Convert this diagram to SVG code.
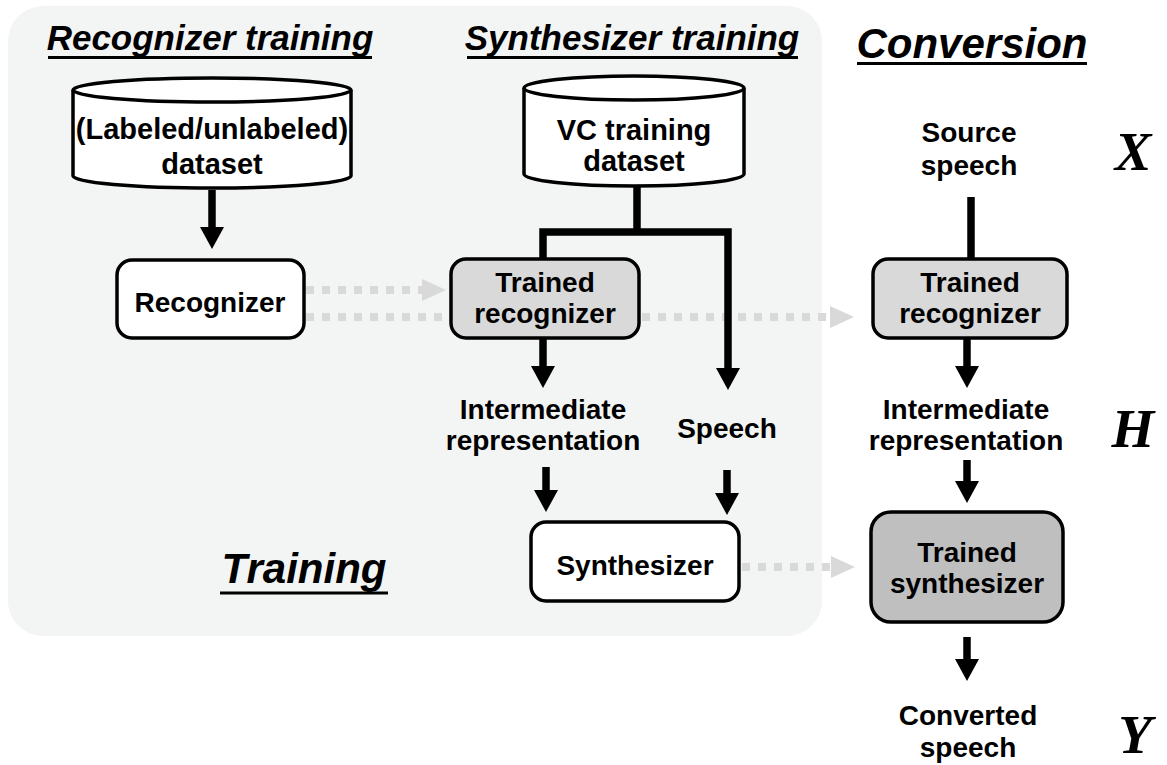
<svg xmlns="http://www.w3.org/2000/svg" width="1167" height="765" viewBox="0 0 1167 765">
  <style>
    .lbl { font-family: "Liberation Sans", Arial, sans-serif; font-weight: bold; font-size: 28px; fill: #000; text-anchor: middle; }
    .db { font-size: 29px; }
    .hdr { font-family: "Liberation Sans", Arial, sans-serif; font-weight: bold; font-style: italic; fill: #000; text-anchor: middle; }
    .var { font-family: "Liberation Serif", "Times New Roman", serif; font-weight: bold; font-style: italic; font-size: 55px; fill: #000; text-anchor: middle; }
    .box { stroke: #000; stroke-width: 3.5; }
    .ul { stroke: #000; stroke-width: 3; }
    .flow { fill: none; stroke: #000; stroke-width: 7.5; stroke-linejoin: miter; }
    .dot { fill: none; stroke: #d9d9d9; stroke-width: 8; stroke-dasharray: 8 8; }
  </style>
  <defs>
    <marker id="blk" markerUnits="userSpaceOnUse" markerWidth="26" markerHeight="24" refX="0" refY="12" orient="auto" viewBox="0 0 26 24">
      <path d="M0,0 L22,12 L0,24 Z" fill="#000"/>
    </marker>
    <marker id="gry" markerUnits="userSpaceOnUse" markerWidth="24" markerHeight="22" refX="0" refY="11" orient="auto" viewBox="0 0 24 22">
      <path d="M0,0 L24,11 L0,22 Z" fill="#d9d9d9"/>
    </marker>
  </defs>

  <rect width="1167" height="765" fill="#fff"/>
  <!-- training panel -->
  <rect id="training-panel" x="8" y="6" width="814" height="630" rx="35" fill="#f3f4f4"/>

  <!-- section headings -->
  <g id="headings">
    <text class="hdr" x="210" y="50" font-size="35">Recognizer training</text>
    <line class="ul" x1="48" y1="57.5" x2="372" y2="57.5"/>
    <text class="hdr" x="632" y="50" font-size="35">Synthesizer training</text>
    <line class="ul" x1="467" y1="57.5" x2="798" y2="57.5"/>
    <text class="hdr" x="972" y="58" font-size="42">Conversion</text>
    <line class="ul" x1="857" y1="63.5" x2="1087" y2="63.5"/>
    <text class="hdr" x="304" y="583" font-size="42">Training</text>
    <line class="ul" x1="220" y1="593" x2="388" y2="593"/>
  </g>

  <!-- connectors -->
  <g id="connectors">
    <!-- gray dotted transfers -->
    <line class="dot" x1="306" y1="290" x2="422" y2="290" marker-end="url(#gry)"/>
    <line class="dot" x1="306" y1="317" x2="452" y2="317"/>
    <line class="dot" x1="642" y1="317" x2="830" y2="317" marker-end="url(#gry)"/>
    <line class="dot" x1="742" y1="567" x2="831" y2="567" marker-end="url(#gry)"/>
    <!-- black flows -->
    <line class="flow" x1="212" y1="190" x2="212" y2="227" marker-end="url(#blk)"/>
    <path class="flow" d="M637,186 V232"/>
    <path class="flow" d="M543,366 V232 H728 V368"/>
    <path d="M531,366 L555,366 L543,388 Z" fill="#000"/>
    <path d="M716,368 L740,368 L728,390 Z" fill="#000"/>
    <line class="flow" x1="546" y1="467" x2="546" y2="490" marker-end="url(#blk)"/>
    <line class="flow" x1="727" y1="470" x2="727" y2="493" marker-end="url(#blk)"/>
    <line class="flow" x1="971" y1="197" x2="971" y2="262"/>
    <line class="flow" x1="967" y1="337" x2="967" y2="366" marker-end="url(#blk)"/>
    <line class="flow" x1="967" y1="460" x2="967" y2="481" marker-end="url(#blk)"/>
    <line class="flow" x1="967" y1="637" x2="967" y2="659" marker-end="url(#blk)"/>
  </g>

  <!-- datasets -->
  <g id="labeled-dataset">
    <path class="box" fill="#fff" d="M73,90 V176 A139,12 0 0 0 351,176 V90"/>
    <ellipse class="box" fill="#fff" cx="212" cy="90" rx="139" ry="12"/>
    <text class="lbl db" x="212" y="139">(Labeled/unlabeled)</text>
    <text class="lbl db" x="212" y="174">dataset</text>
  </g>
  <g id="vc-dataset">
    <path class="box" fill="#fff" d="M524,88 V174 A110,12 0 0 0 744,174 V88"/>
    <ellipse class="box" fill="#fff" cx="634" cy="88" rx="110" ry="12"/>
    <text class="lbl db" x="634" y="140">VC training</text>
    <text class="lbl db" x="634" y="171">dataset</text>
  </g>

  <!-- training nodes -->
  <g id="recognizer">
    <rect class="box" x="117" y="260" width="187" height="78" rx="15" fill="#fff"/>
    <text class="lbl" x="210" y="312">Recognizer</text>
  </g>
  <g id="trained-recognizer-train">
    <rect class="box" x="451" y="259" width="188" height="79" rx="15" fill="#d9d9d9"/>
    <text class="lbl" x="545" y="292">Trained</text>
    <text class="lbl" x="545" y="323">recognizer</text>
  </g>
  <g id="intermediate-train">
    <text class="lbl" x="543" y="419">Intermediate</text>
    <text class="lbl" x="543" y="450">representation</text>
  </g>
  <g id="speech-train">
    <text class="lbl" x="727" y="438">Speech</text>
  </g>
  <g id="synthesizer">
    <rect class="box" x="531" y="522" width="208" height="79" rx="15" fill="#fff"/>
    <text class="lbl" x="635" y="575">Synthesizer</text>
  </g>

  <!-- conversion nodes -->
  <g id="source-speech">
    <text class="lbl" x="969" y="142">Source</text>
    <text class="lbl" x="969" y="175">speech</text>
  </g>
  <g id="trained-recognizer-conv">
    <rect class="box" x="873" y="259" width="194" height="79" rx="15" fill="#d9d9d9"/>
    <text class="lbl" x="970" y="292">Trained</text>
    <text class="lbl" x="970" y="323">recognizer</text>
  </g>
  <g id="intermediate-conv">
    <text class="lbl" x="966" y="419">Intermediate</text>
    <text class="lbl" x="966" y="450">representation</text>
  </g>
  <g id="trained-synthesizer">
    <rect class="box" x="871" y="512" width="192" height="110" rx="20" fill="#bfbfbf"/>
    <text class="lbl" x="967" y="562">Trained</text>
    <text class="lbl" x="967" y="593">synthesizer</text>
  </g>
  <g id="converted-speech">
    <text class="lbl" x="968" y="725">Converted</text>
    <text class="lbl" x="968" y="757">speech</text>
  </g>

  <!-- variables -->
  <g id="variables">
    <text class="var" x="1133" y="170">X</text>
    <text class="var" x="1133" y="447">H</text>
    <text class="var" x="1135" y="753">Y</text>
  </g>
</svg>
